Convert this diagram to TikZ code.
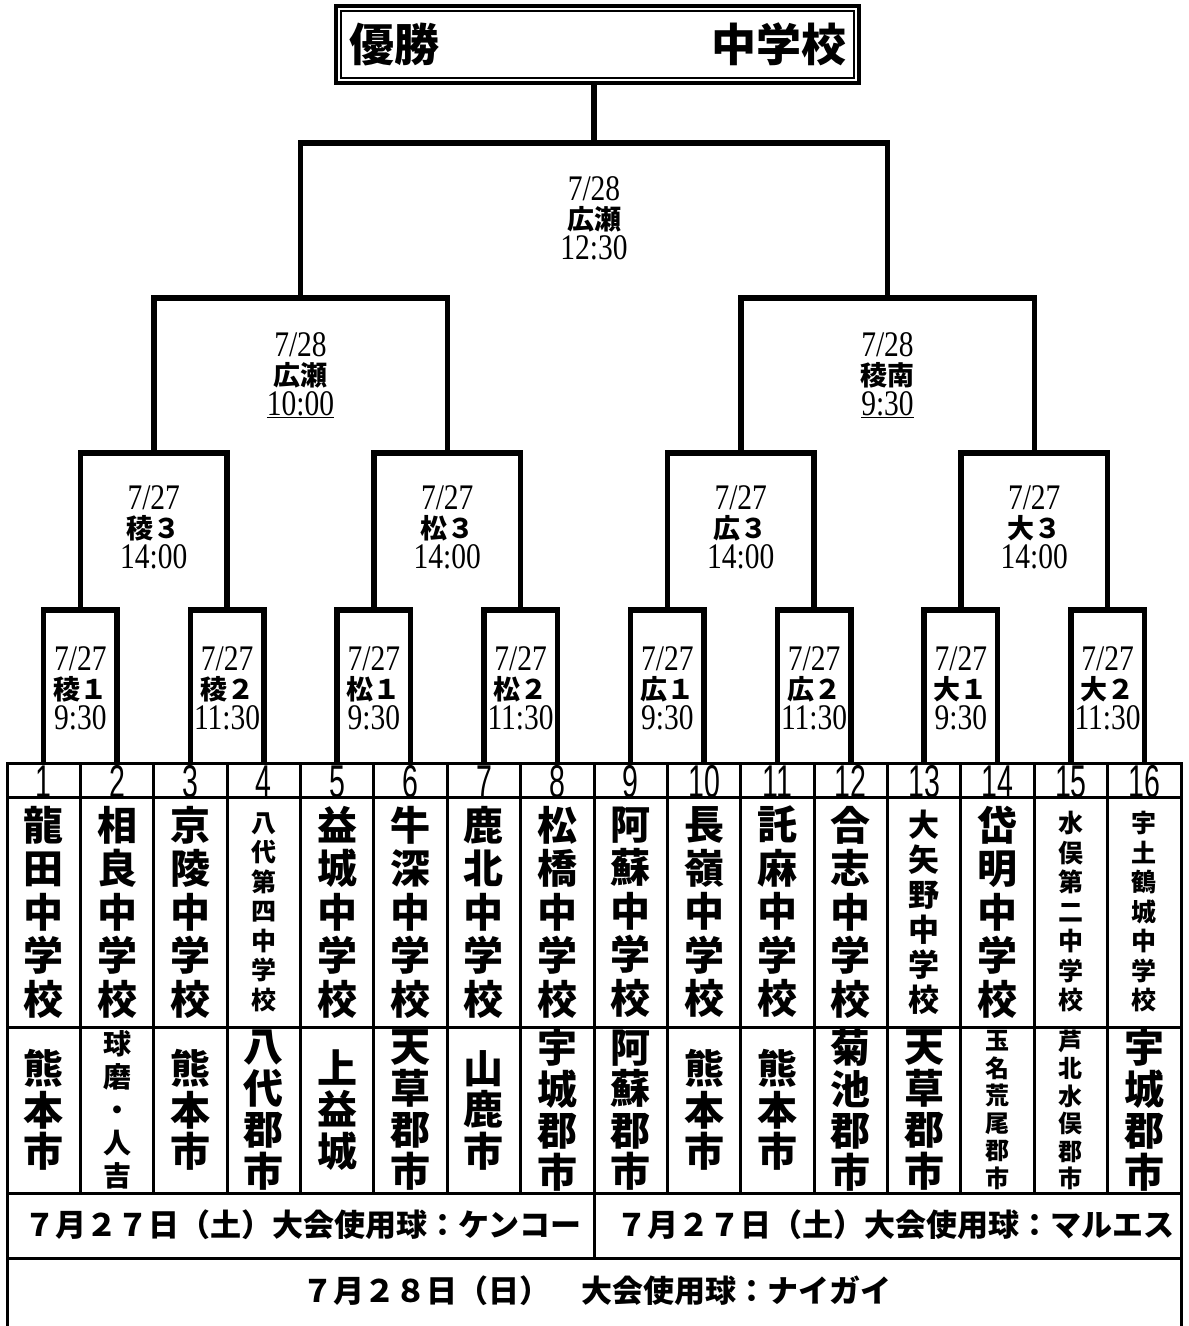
\documentclass[tikz,border=0pt]{standalone}
\usepackage{fontspec}
\usepackage{tikz}
\usetikzlibrary{positioning,calc}

\newfontfamily\jp{Noto Sans CJK JP}
\newfontfamily\numf{Liberation Serif}[FakeStretch=0.82]
\newfontfamily\digf{Liberation Sans}[FakeStretch=0.62]
\newcommand{\fsz}[2]{\fontsize{#1}{#2}\selectfont\lineskiplimit=-50pt}
\newcommand{\mlab}[3]{{#1}\\{\jp\bfseries\fontsize{27}{29.5}\selectfont #2}\\{#3}}

\begin{document}
\begin{tikzpicture}[
    x=1pt, y=-1pt,
    bline/.style={line width=5.5pt, line join=miter},
    grid/.style={line width=3pt, line cap=rect},
    mlabel/.style={align=center, inner sep=0pt, font=\numf\fsz{36}{29.5}},
    numcell/.style={anchor=base, inner sep=0pt, font=\digf\fsz{46}{46}},
    bigname/.style={align=center, inner sep=0pt, font=\jp\bfseries\fsz{40}{43.5}},
    midname/.style={align=center, inner sep=0pt, font=\jp\bfseries\fsz{31}{35}},
    smallname/.style={align=center, inner sep=0pt, font=\jp\bfseries\fsz{25}{29.5}},
    bigcity/.style={align=center, inner sep=0pt, font=\jp\bfseries\fsz{40}{41.5}},
    kumacity/.style={align=center, inner sep=0pt, font=\jp\bfseries\fsz{28}{33}},
    smallcity/.style={align=center, inner sep=0pt, font=\jp\bfseries\fsz{24}{27.5}},
    ball/.style={inner sep=0pt, font=\jp\bfseries\fsz{31}{31}},
    titlebox/.style={draw, line width=4pt, minimum width=523pt, minimum height=77pt, text width=497pt, inner sep=0pt, font=\jp\bfseries\fsz{45}{45}},
]
\useasboundingbox (0,0) rectangle (1189,1326);

% Slots and match points
\foreach \i in {1,...,16}
  \coordinate (t\i) at ({7+73.375*(\i-0.5)},763);
\foreach \i in {1,...,8}
  \coordinate (q\i) at ({7+73.375*(2*\i-1)},610);
\foreach \i in {1,...,4}
  \coordinate (s\i) at ({7+73.375*(4*\i-2)},453);
\foreach \i in {1,2}
  \coordinate (h\i) at ({7+73.375*(8*\i-4)},298);
\coordinate (f) at (594,143);

% Winner box
\node[titlebox] (title) at (597.5,44.5) {優勝\hfill 中学校\hspace*{18pt}};
\draw[line width=2pt] ([xshift=7pt,yshift=-7pt]title.north west) rectangle ([xshift=-7pt,yshift=7pt]title.south east);

% Table
\foreach \y in {763,797,1027,1193,1258}
  \draw[grid] (7,\y) -- (1181,\y);
\foreach \k in {1,...,15}
  \draw[grid] ({7+73.375*\k},763) -- ({7+73.375*\k},1193);
\draw[grid] (7,763) -- (7,1330);
\draw[grid] (1181,763) -- (1181,1330);
\draw[grid] (594,1193) -- (594,1258);

% Bracket
\foreach \i in {1,...,8} {
  \pgfmathtruncatemacro\a{2*\i-1}
  \pgfmathtruncatemacro\b{2*\i}
  \draw[bline] (t\a) |- (q\i) -| (t\b);
}
\foreach \i in {1,...,4} {
  \pgfmathtruncatemacro\a{2*\i-1}
  \pgfmathtruncatemacro\b{2*\i}
  \draw[bline] (q\a) |- (s\i) -| (q\b);
}
\foreach \i in {1,2} {
  \pgfmathtruncatemacro\a{2*\i-1}
  \pgfmathtruncatemacro\b{2*\i}
  \draw[bline] (s\a) |- (h\i) -| (s\b);
}
\draw[bline] (h1) |- (f) -| (h2);
\draw[bline] (f) -- (f |- title.south);

% Match labels
\foreach \i/\v/\tm in {1/稜１/9:30, 2/稜２/11:30, 3/松１/9:30, 4/松２/11:30,
                       5/広１/9:30, 6/広２/11:30, 7/大１/9:30, 8/大２/11:30}
  \node[mlabel] (lq\i) at ([yshift=-78pt]q\i) {\mlab{7/27}{\v}{\tm}};
\foreach \i/\v in {1/稜３, 2/松３, 3/広３, 4/大３}
  \node[mlabel] (ls\i) at ([yshift=-74pt]s\i) {\mlab{7/27}{\v}{14:00}};
\node[mlabel] (lh1) at ([yshift=-77pt]h1) {\mlab{7/28}{広瀬}{\underline{10:00}}};
\node[mlabel] (lh2) at ([yshift=-77pt]h2) {\mlab{7/28}{稜南}{\underline{9:30}}};
\node[mlabel] (lf) at ([yshift=-75pt]f) {\mlab{7/28}{広瀬}{12:30}};

% Numbers
\foreach \i in {1,...,16}
  \node[numcell] (no\i) at ([yshift=-34pt]t\i) {\i};

% Schools
\foreach \i/\st/\tx in {1/bigname/{龍\\田\\中\\学\\校}, 2/bigname/{相\\良\\中\\学\\校},
    3/bigname/{京\\陵\\中\\学\\校}, 4/smallname/{八\\代\\第\\四\\中\\学\\校},
    5/bigname/{益\\城\\中\\学\\校}, 6/bigname/{牛\\深\\中\\学\\校},
    7/bigname/{鹿\\北\\中\\学\\校}, 8/bigname/{松\\橋\\中\\学\\校},
    9/bigname/{阿\\蘇\\中\\学\\校}, 10/bigname/{長\\嶺\\中\\学\\校},
    11/bigname/{託\\麻\\中\\学\\校}, 12/bigname/{合\\志\\中\\学\\校},
    13/midname/{大\\矢\\野\\中\\学\\校}, 14/bigname/{岱\\明\\中\\学\\校},
    15/smallname/{水\\俣\\第\\二\\中\\学\\校}, 16/smallname/{宇\\土\\鶴\\城\\中\\学\\校}}
  \node[\st] (nm\i) at ([yshift=-149pt]t\i) {\tx};

% Districts
\foreach \i/\st/\tx in {1/bigcity/{熊\\本\\市}, 2/kumacity/{球\\磨\\・\\人\\吉},
    3/bigcity/{熊\\本\\市}, 4/bigcity/{八\\代\\郡\\市},
    5/bigcity/{上\\益\\城}, 6/bigcity/{天\\草\\郡\\市},
    7/bigcity/{山\\鹿\\市}, 8/bigcity/{宇\\城\\郡\\市},
    9/bigcity/{阿\\蘇\\郡\\市}, 10/bigcity/{熊\\本\\市},
    11/bigcity/{熊\\本\\市}, 12/bigcity/{菊\\池\\郡\\市},
    13/bigcity/{天\\草\\郡\\市}, 14/smallcity/{玉\\名\\荒\\尾\\郡\\市},
    15/smallcity/{芦\\北\\水\\俣\\郡\\市}, 16/bigcity/{宇\\城\\郡\\市}}
  \node[\st] (dc\i) at ([yshift=-347pt]t\i) {\tx};

% Balls
\node[ball] (ball1) at (303,1225) {７月２７日（土）大会使用球：ケンコー};
\node[ball] (ball2) at (895,1225) {７月２７日（土）大会使用球：マルエス};
\node[ball] (ball3) at (597,1291) {７月２８日（日）　大会使用球：ナイガイ};
\end{tikzpicture}
\end{document}
